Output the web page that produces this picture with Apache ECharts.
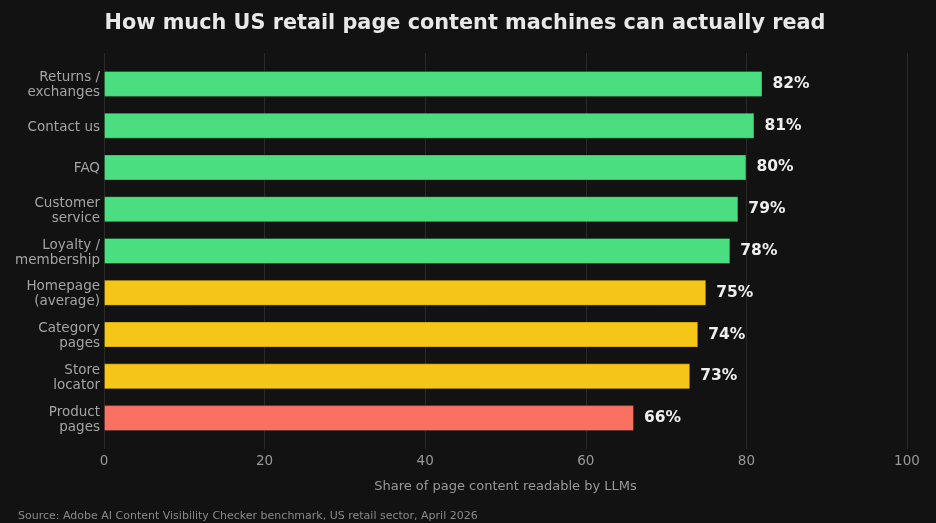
<!DOCTYPE html>
<html><head><meta charset="utf-8">
<script src="https://cdn.jsdelivr.net/npm/echarts@6/dist/echarts.min.js"></script>
<style>html,body{margin:0;padding:0;background:#121212}#c{width:936px;height:523px}</style>
</head><body><div id="c"></div>
<script>
const categories = ["Returns /\nexchanges","Contact us","FAQ","Customer\nservice","Loyalty /\nmembership","Homepage\n(average)","Category\npages","Store\nlocator","Product\npages"];
const values = [82,81,80,79,78,75,74,73,66];
const barColors = ["#4ade80","#4ade80","#4ade80","#4ade80","#4ade80","#f5c518","#f5c518","#f5c518","#f87161"];
const xTicks = [0,20,40,60,80,100];
const chart = echarts.init(document.getElementById('c'));
chart.setOption({
  backgroundColor:'#121212',
  animation:false,
  title:[{text:'How much US retail page content machines can actually read',left:465,top:13,padding:0,textAlign:'center',
    textStyle:{color:'#e8e8e8',fontSize:20.8,fontWeight:'bold',fontFamily:'DejaVu Sans'}},
    {text:'Source: Adobe AI Content Visibility Checker benchmark, US retail sector, April 2026',left:18,top:511,padding:0,
    textStyle:{color:'#8a8a8a',fontSize:11,fontWeight:'normal',fontFamily:'DejaVu Sans'}}],
  grid:[{left:104,right:29,top:53,bottom:74,z:0},{left:104,right:29,top:63,bottom:84}],
  xAxis:[{type:'value',gridIndex:0,min:0,max:100,interval:20,
    axisLine:{show:false},axisTick:{show:false},axisLabel:{show:false},
    splitLine:{show:true,lineStyle:{color:'#2a2a2a',width:1}}},
    {type:'value',gridIndex:1,min:0,max:100,interval:20,
    name:'Share of page content readable by LLMs',nameLocation:'middle',nameGap:41,
    nameTextStyle:{color:'#999',fontSize:13,fontFamily:'DejaVu Sans'},
    axisLine:{show:false},axisTick:{show:false},
    axisLabel:{color:'#999',fontSize:13.5,fontFamily:'DejaVu Sans',margin:15},
    splitLine:{show:false}}],
  yAxis:[{type:'value',gridIndex:0,show:false,min:0,max:1},
    {type:'category',gridIndex:1,data:categories,inverse:true,
    axisLine:{show:false},axisTick:{show:false},
    axisLabel:{color:'#a4a4a4',fontSize:13.5,fontFamily:'DejaVu Sans',margin:4,lineHeight:15,align:'right',
      formatter:function(v){return '{a|'+v.split('\n').join('}\n{a|')+'}';},
      rich:{a:{fontSize:13.5,fontFamily:'DejaVu Sans',color:'#a4a4a4',lineHeight:15,padding:[3,0,0,0]}}}}],
  series:[{type:'bar',xAxisIndex:1,yAxisIndex:1,barWidth:26,
    data:values.map((v,i)=>({value:v,itemStyle:{color:barColors[i],borderColor:'rgba(0,0,0,0.25)',borderWidth:1}})),
    label:{show:true,position:'right',distance:10,formatter:'{c}%',color:'#eeeeee',fontSize:15.5,fontWeight:'bold',fontFamily:'DejaVu Sans'}}]
});
</script></body></html>
